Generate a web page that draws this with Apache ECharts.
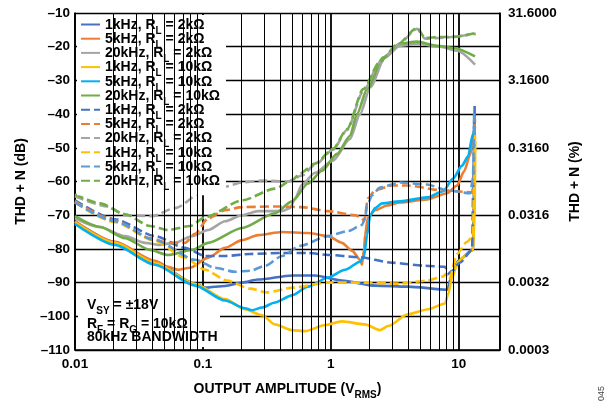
<!DOCTYPE html>
<html><head><meta charset="utf-8">
<script src="https://cdn.jsdelivr.net/npm/echarts@6/dist/echarts.min.js"></script>
<style>html,body{margin:0;padding:0;background:#fff}#c{width:616px;height:405px}</style>
</head><body><div id="c"></div>
<script>
const FONT = '"Liberation Sans", Arial, Helvetica, sans-serif';

// x: output amplitude (Vrms), y: THD+N (dB)
const solid1k2k = [[0.01,-71.8],[0.0205,-78],[0.0422,-84],[0.0868,-90.3],[0.105,-91.5],[0.149,-91],[0.202,-90],[0.27,-89.1],[0.497,-87.9],[0.753,-87.9],[1.22,-89.4],[2.22,-90.9],[4.0,-91.2],[8.1,-92.1],[8.86,-87.6],[9.87,-83.5],[12.9,-80.3],[13.2,-60],[13.3,-37.6]];
const solid5k2k = [[0.01,-71.8],[0.0205,-77.9],[0.0422,-83.5],[0.0533,-85.3],[0.0639,-86.2],[0.0793,-85.6],[0.11,-82.6],[0.149,-79.7],[0.202,-77.4],[0.27,-75.9],[0.416,-75],[0.663,-75.3],[0.951,-76.2],[1.22,-78.2],[1.47,-80.6],[1.69,-83.2],[1.75,-84.7],[1.82,-80],[1.85,-75.9],[1.95,-70.6],[2.22,-68.5],[2.75,-67.1],[3.48,-66.2],[5.65,-65.3],[8.1,-63.5],[9.7,-61.2],[11.0,-57],[12.3,-52],[13.0,-47],[13.4,-41.5]];
const solid20k2k = [[0.01,-70.9],[0.0157,-73.5],[0.0246,-76.2],[0.0353,-78.2],[0.0446,-78.8],[0.0605,-78.2],[0.0822,-76.2],[0.11,-74.4],[0.149,-71.8],[0.202,-70],[0.27,-68.8],[0.416,-68.8],[0.48,-67.9],[0.525,-65],[0.596,-60.9],[0.753,-57.4],[1.04,-53.8],[1.41,-47.4],[1.69,-40],[2.03,-32.1],[2.65,-23.2],[3.48,-19.7],[4.72,-19.1],[7.14,-20],[9.7,-21.2],[13.4,-25.3]];
const solid1k10k = [[0.01,-72.1],[0.0205,-78.2],[0.0422,-84.2],[0.0868,-90.4],[0.149,-94.9],[0.213,-97.9],[0.29,-99.7],[0.366,-102.4],[0.497,-104.1],[0.629,-104.4],[0.901,-102.6],[1.22,-101.5],[1.85,-102.4],[2.42,-104.1],[2.8,-102.9],[4.0,-99.4],[5.75,-97.9],[7.8,-96.2],[8.25,-93.5],[8.86,-88.5],[9.87,-83.8],[11.4,-81.8],[12.9,-80.3],[13.3,-70],[13.45,-48]];
const solid5k10k = [[0.01,-72.6],[0.0205,-78.8],[0.0422,-84.7],[0.0868,-90.9],[0.149,-95.3],[0.213,-97.6],[0.242,-98.2],[0.29,-97.4],[0.366,-95.9],[0.497,-93.8],[0.663,-91.2],[0.951,-88.5],[1.29,-86.2],[1.69,-83.8],[1.82,-82.1],[1.92,-75.9],[2.03,-70],[2.22,-67.9],[2.51,-66.5],[3.48,-65.9],[5.65,-64.7],[7.54,-62.9],[9.02,-59.1],[10.6,-55.3],[11.8,-52.6],[12.9,-45.9],[13.4,-43.8]];
const solid20k10k = [[0.01,-70.3],[0.0157,-73.5],[0.0246,-76.8],[0.0386,-80.3],[0.0533,-81.8],[0.0822,-80.3],[0.11,-78.2],[0.202,-73.8],[0.366,-69.4],[0.497,-65.9],[0.663,-60.6],[0.854,-56.8],[1.12,-51.8],[1.41,-46.5],[1.6,-40],[1.92,-32.6],[2.56,-23.2],[3.48,-19.1],[4.72,-18.5],[6.77,-19.7],[9.02,-20.3],[13.4,-22.9]];
const dash1k2k = [[0.01,-65.6],[0.0205,-71.2],[0.0422,-76.2],[0.0724,-79.7],[0.104,-82.1],[0.149,-82.1],[0.234,-81.5],[0.416,-81.2],[0.663,-81.2],[0.951,-81.8],[1.63,-82.4],[3.01,-84.1],[5.45,-85],[7.81,-85.3],[8.25,-87.4],[8.86,-86.5],[10.2,-84.1],[12.7,-80.3],[13.0,-60],[13.2,-40]];
const dash5k2k = [[0.01,-65.9],[0.0205,-71.6],[0.0386,-76.8],[0.0533,-78.2],[0.0724,-78.2],[0.0868,-75.5],[0.11,-70.9],[0.149,-68.5],[0.202,-67.6],[0.366,-67.4],[0.596,-67.6],[0.951,-68.8],[1.55,-70],[1.75,-70.9],[1.82,-71.8],[1.95,-65],[2.22,-62.6],[3.01,-61.2],[4.0,-61.2],[7.4,-62.6],[12.7,-63.2],[13.1,-60],[13.3,-41]];
const dash20k2k = [[0.01,-64.4],[0.0181,-67.4],[0.0246,-70],[0.04,-70.3],[0.0605,-67.9],[0.104,-62.6],[0.149,-61.5],[0.202,-60.3],[0.29,-59.7],[0.463,-60],[0.596,-58.2],[0.753,-55],[1.04,-50.6],[1.34,-44.7],[1.79,-33.2],[2.42,-24.7],[3.29,-19.7],[4.72,-14.7],[5.45,-17.6],[7.14,-17.4],[13.6,-16.2]];
const dash1k10k = [[0.01,-66.2],[0.0205,-72.1],[0.0422,-77.6],[0.0724,-82.6],[0.104,-86.2],[0.154,-89.4],[0.234,-91.8],[0.317,-92.9],[0.506,-91.5],[0.934,-90],[1.69,-90],[3.48,-90.3],[5.65,-89.4],[7.54,-88.2],[7.96,-87.4],[8.4,-89.1],[9.7,-81.5],[11.6,-77.9],[12.9,-76.2],[13.2,-60],[13.4,-45]];
const dash5k10k = [[0.01,-66.2],[0.0205,-71.8],[0.0422,-77.4],[0.0868,-83.2],[0.124,-85.6],[0.178,-86.8],[0.234,-86.5],[0.306,-85],[0.416,-82.1],[0.574,-79.1],[0.951,-76.2],[1.36,-74.7],[1.75,-72.9],[1.85,-70.9],[1.92,-67.1],[2.1,-64.1],[2.42,-61.8],[3.48,-60.3],[5.65,-60.9],[8.1,-62.6],[12.3,-63.5],[12.9,-59],[13.2,-39]];
const dash20k10k = [[0.01,-63.8],[0.0157,-66.5],[0.0246,-69.7],[0.0386,-73.2],[0.0533,-74.4],[0.0793,-73.2],[0.104,-70.6],[0.202,-65.6],[0.366,-62.1],[0.497,-59.7],[0.574,-57.6],[0.753,-54.7],[1.04,-50.3],[1.34,-44.4],[1.79,-32.6],[2.42,-24.4],[3.29,-19.4],[4.72,-14.4],[5.45,-17.4],[7.14,-17.1],[9.02,-17.1],[13.6,-15.9]];

const freqs = ['1kHz','5kHz','20kHz','1kHz','5kHz','20kHz','1kHz','5kHz','20kHz','1kHz','5kHz','20kHz'];
const loads = ['2kΩ','2kΩ','2kΩ','10kΩ','10kΩ','10kΩ','2kΩ','2kΩ','2kΩ','10kΩ','10kΩ','10kΩ'];
const dashed = [false,false,false,false,false,false,true,true,true,true,true,true];
const colors = ['#4472C4','#ED7D31','#A5A5A5','#FFC000','#00B0F0','#70AD47','#4472C4','#ED7D31','#A5A5A5','#FFC000','#5B9BD5','#70AD47'];
const datasets = [solid1k2k, solid5k2k, solid20k2k, solid1k10k, solid5k10k, solid20k10k, dash1k2k, dash5k2k, dash20k2k, dash1k10k, dash5k10k, dash20k10k];

const yTicksDb = [-10,-30,-50,-70,-90,-110];
const yTicksPct = ['31.6000','3.1600','0.3160','0.0316','0.0032','0.0003'];
const minorGrid = [0.02,0.03,0.04,0.05,0.06,0.07,0.08,0.09,0.2,0.3,0.4,0.5,0.6,0.7,0.8,0.9,2,3,4,5,6,7,8,9];

const names = freqs.map((f,i)=> f + ', RL = ' + loads[i] + (dashed[i] ? ' (b)' : ' (a)'));
const nameMap = {};
names.forEach((n,i)=> nameMap[n] = i);

const series = datasets.map((d,i)=>({
  name: names[i], type:'line', data: d, showSymbol:false, symbol:'none',
  smooth: 0.25, smoothMonotone: 'x', z: 2,
  lineStyle: {color: colors[i], width: 2.6, type: dashed[i] ? [9,4] : 'solid'},
  itemStyle: {color: colors[i]}
}));
series.unshift({
  name: 'grid', type:'line', data: [], z: 1, silent: true,
  markLine: {silent:true, symbol:['none','none'], animation:false, label:{show:false},
    lineStyle:{color:'#000', width:1, type:'solid'},
    data: minorGrid.map(v=>({xAxis:v}))}
});

const richText = {
  a: {fontFamily: FONT, fontWeight:'bold', fontSize:14, color:'#000', lineHeight:13, verticalAlign:'top'},
  s: {fontFamily: FONT, fontWeight:'bold', fontSize:10, color:'#000', lineHeight:10, padding:[8,0,0,0], verticalAlign:'top'}
};

const chart = echarts.init(document.getElementById('c'), null, {renderer:'canvas'});
chart.setOption({
  animation:false,
  backgroundColor:'#fff',
  grid:{left:75, right:116, top:13, bottom:52, containLabel:false},
  xAxis:{
    type:'log', logBase:10, min:0.01, max:21,
    axisLine:{show:true, lineStyle:{color:'#000', width:1.6}},
    axisTick:{show:false},
    splitLine:{show:true, lineStyle:{color:'#000', width:1.8}},
    axisLabel:{margin:7, fontFamily:FONT, fontWeight:'bold', fontSize:13.5, color:'#000',
      formatter: v => { const l = Math.log10(v); return Math.abs(l-Math.round(l))<1e-6 ? String(v) : ''; }},
    name:'{a|OUTPUT AMPLITUDE (V}{s|RMS}{a|)}', nameLocation:'middle', nameGap:32,
    nameTextStyle:{rich: richText}
  },
  yAxis:[{
    type:'value', min:-110, max:-10, interval:10, position:'left',
    axisLine:{show:true, lineStyle:{color:'#000', width:1.6}},
    axisTick:{show:false},
    splitLine:{show:true, lineStyle:{color:'#000', width:1.4}},
    axisLabel:{margin:5, fontFamily:FONT, fontWeight:'bold', fontSize:13.5, color:'#000',
      formatter: v => v < 0 ? '\u2013' + Math.abs(v) : String(v)},
    name:'THD + N (dB)', nameLocation:'middle', nameGap:47, nameRotate:90,
    nameTextStyle:{fontFamily:FONT, fontWeight:'bold', fontSize:14, color:'#000'}
  },{
    type:'value', min:-110, max:-10, interval:10, position:'right',
    axisLine:{show:true, lineStyle:{color:'#000', width:1.6}},
    axisTick:{show:false}, splitLine:{show:false},
    axisLabel:{margin:8, fontFamily:FONT, fontWeight:'bold', fontSize:13.5, color:'#000',
      formatter: v => { const k = yTicksDb.indexOf(Math.round(v)); return k>=0 ? yTicksPct[k] : ''; }},
    name:'THD + N (%)', nameLocation:'middle', nameGap:58, nameRotate:90,
    nameTextStyle:{fontFamily:FONT, fontWeight:'bold', fontSize:14, color:'#000'}
  }],
  legend:{
    show:true, orient:'vertical', left:77, top:15, itemGap:-3.8,
    itemWidth:19, itemHeight:14, padding:[3,6,3,3],
    backgroundColor:'#fff',
    itemStyle:{opacity:0, borderWidth:0},
    data: names,
    formatter: n => { const i = nameMap[n]; return '{a|' + freqs[i] + ', R}{s|L}{a| = ' + loads[i] + '}'; },
    textStyle:{rich: richText}
  },
  graphic:[
    {type:'rect', z:1, shape:{x:78, y:290, width:142, height:57}, style:{fill:'#fff'}, silent:true},
    {type:'text', z:10, x:87, y:298, style:{text:'{a|V}{s|SY}{a| = \u00b118V}', rich: richText}},
    {type:'text', z:10, x:87, y:317, style:{text:'{a|R}{s|F}{a| = R}{s|G}{a| = 10k\u03a9}', rich: richText}},
    {type:'text', z:10, x:87, y:330, style:{text:'{a|80kHz BANDWIDTH}', rich: richText}},
    {type:'text', z:10, x:597, y:401, rotation:Math.PI/2, style:{text:'045', fontFamily:FONT, fontSize:9, fill:'#444'}}
  ],
  series: series
});
</script>
</body></html>
